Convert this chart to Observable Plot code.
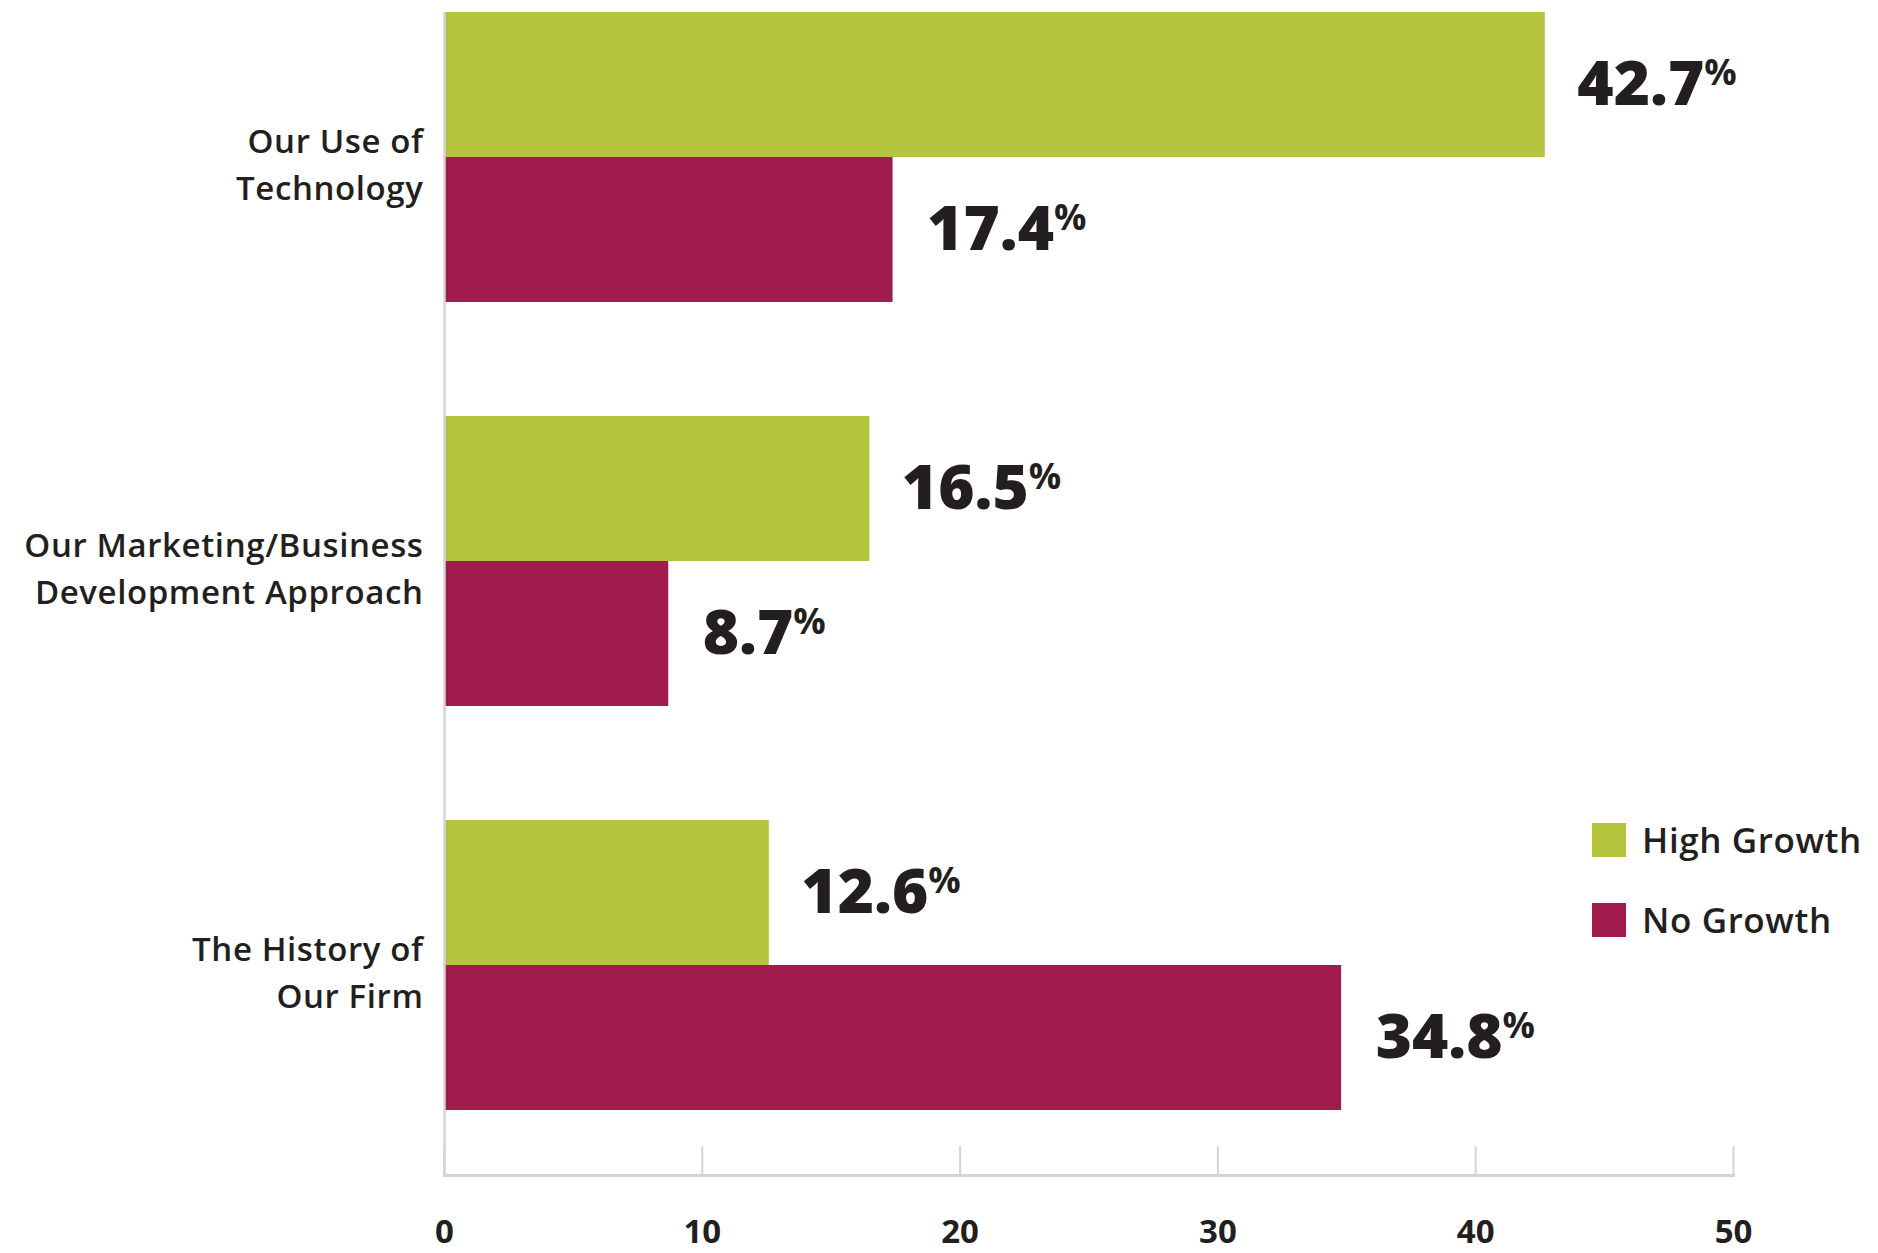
<!DOCTYPE html>
<html><head><meta charset="utf-8">
<script src="https://cdn.jsdelivr.net/npm/d3@7"></script>
<script src="https://cdn.jsdelivr.net/npm/@observablehq/plot@0.6"></script>
<style>
body{margin:0;background:#fff;}
#wrap{position:relative;width:1878px;height:1253px;font-family:"Open Sans",sans-serif;color:#231f20;}
#legend{position:absolute;left:1592px;top:822px;}
.item{display:flex;align-items:center;height:35px;margin-bottom:45px;font-size:35px;font-weight:600;letter-spacing:0.6px;white-space:nowrap;}
.sw{width:34px;height:34px;margin-right:16px;flex:none;}
svg g[aria-label="y-axis tick label"] text{letter-spacing:0.6px;}
</style></head><body><div id="wrap"><div id="legend"></div></div>
<script>
const categories = ["Our Use of Technology", "Our Marketing/Business Development Approach", "The History of Our Firm"];
const categoryLabels = ["Our Use of\nTechnology", "Our Marketing/Business\nDevelopment Approach", "The History of\nOur Firm"];
const series = ["High Growth", "No Growth"];
const highGrowth = [42.7, 16.5, 12.6];
const noGrowth = [17.4, 8.7, 34.8];
const xTicks = [0, 10, 20, 30, 40, 50];
const colors = ["#b5c43f", "#a01c4c"];

const highRows = categories.map((c, i) => ({category: c, series: series[0], value: highGrowth[i]}));
const noRows = categories.map((c, i) => ({category: c, series: series[1], value: noGrowth[i]}));
const labelOf = new Map(categories.map((c, i) => [c, categoryLabels[i]]));
const fmt = d => d.value.toFixed(1) + "%";

const chart = Plot.plot({
  width: 1878,
  height: 1253,
  marginLeft: 444,
  marginRight: 145,
  marginTop: 12,
  marginBottom: 78,
  style: {fontFamily: "Open Sans", color: "#231f20", background: "#fff"},
  x: {domain: [0, 50], label: null},
  y: {domain: categories, range: [12, 1110], paddingInner: 0.2822, paddingOuter: 0, label: null},
  color: {domain: series, range: colors},
  marks: [
    Plot.barX(highRows, {x: "value", y: "category", fill: "series", insetBottom: 145}),
    Plot.barX(noRows, {x: "value", y: "category", fill: "series", insetTop: 145}),
    Plot.gridX(xTicks, {stroke: "#d4d4d4", strokeOpacity: 1, strokeWidth: 2, insetTop: 1134}),
    Plot.ruleX([0], {stroke: "#d4d4d4", strokeWidth: 2.5}),
    Plot.frame({anchor: "bottom", stroke: "#d4d4d4", strokeWidth: 3}),
    Plot.axisX(xTicks, {tickSize: 0, tickPadding: 44, fontSize: 33, fontWeight: 700, fill: "#231f20"}),
    Plot.axisY({tickSize: 0, tickPadding: 21, dy: 4, tickFormat: d => labelOf.get(d), fontSize: 33, fontWeight: 600, lineHeight: 1.42, fill: "#231f20"}),
    Plot.text(highRows, {x: "value", y: "category", text: fmt, textAnchor: "start", dx: 32, dy: -72.5, fontSize: 62, fontWeight: 800, fill: "#231f20"}),
    Plot.text(noRows, {x: "value", y: "category", text: fmt, textAnchor: "start", dx: 34, dy: 72.5, fontSize: 62, fontWeight: 800, fill: "#231f20"})
  ]
});

d3.select(chart).selectAll("text").filter(function() { return /%$/.test(this.textContent) && !this.querySelector("tspan"); })
  .each(function() {
    const t = this.textContent.replace("%", "");
    const sel = d3.select(this);
    sel.text(t);
    sel.append("tspan").attr("font-size", 36).attr("dy", -20).attr("font-weight", 700).text("%");
  });

const wrap = document.getElementById("wrap");
wrap.insertBefore(chart, wrap.firstChild);
const legend = d3.select("#legend");
series.forEach((s, i) => {
  const it = legend.append("div").attr("class", "item");
  it.append("div").attr("class", "sw").style("background", colors[i]);
  it.append("span").text(s);
});
</script>
</body></html>
